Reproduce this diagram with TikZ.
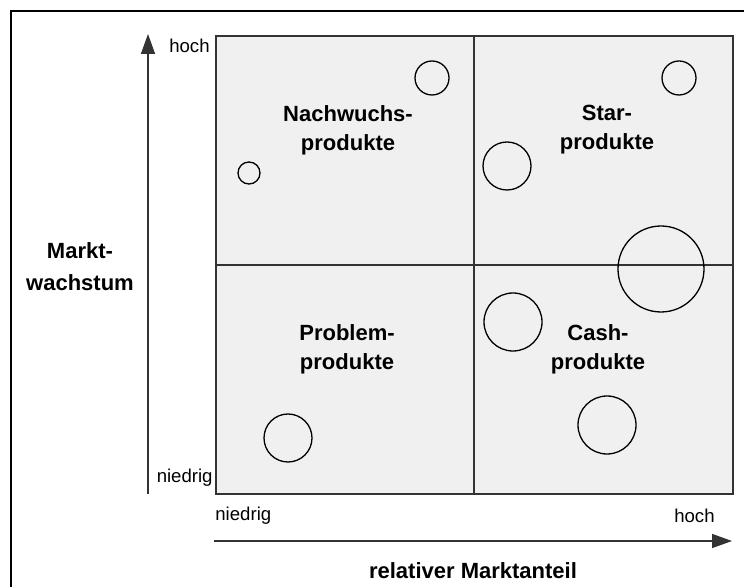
\documentclass[tikz,border=0pt]{standalone}
\usepackage{fontspec}
\setmainfont{Liberation Sans}
\usetikzlibrary{arrows.meta, positioning}
\definecolor{linegray}{HTML}{333333}
\definecolor{fieldgray}{HTML}{F0F0F0}
\tikzset{
	bubble/.style={draw, circle, inner sep=0pt, line width=0.65pt},
	quadlabel/.style={align=center, font=\bfseries\fontsize{11}{14.5}\selectfont},
	axislabel/.style={font=\fontsize{9.3}{11}\selectfont, inner sep=1pt},
	axistitle/.style={align=center, font=\bfseries\fontsize{11}{16}\selectfont},
}

\begin{document}
\begin{tikzpicture}[x=0.5pt, y=-0.5pt]
		\useasboundingbox (0,0) rectangle (744,587);
		\draw[line width=1pt] (11,11) rectangle (760,600);
		
		% Matrix
		\coordinate (tl) at (216,36);
		\coordinate (br) at (733,494);
		\coordinate (c) at (474,265);
		\fill[fieldgray] (tl) rectangle (br);
		\draw[linegray, line width=0.9pt] (tl |- c) -- (br |- c);
		\draw[linegray, line width=0.9pt] (tl -| c) -- (br -| c);
		\draw[linegray, line width=1pt] (tl) rectangle (br);
		
		% Axes
		\coordinate (ybot) at (148,494);
		\coordinate (ytop) at (148,34);
		\coordinate (xleft) at (214,541);
		\coordinate (xright) at (732,541);
		\begin{scope}[linegray, line width=0.75pt, -{Triangle[length=10pt, width=7pt]}]
			\draw (ybot) -- (ytop);
			\draw (xleft) -- (xright);
		\end{scope}
		
		\node (yhigh) [axislabel, anchor=east] at (212,46) {hoch};
		\node (ylow) [axislabel, anchor=east] at (215,478) {niedrig};
		\node (xlow) [axislabel, anchor=west] at (213,516) {niedrig};
		\node (xhigh) [axislabel, anchor=east] at (717,516) {hoch};
		\node (ytitle) [axistitle] at (80,267) {Markt-\\wachstum};
		\node (xtitle) [axistitle] at (473,571) {relativer Marktanteil};
		
		% Quadrants
		\node (nachwuchs) [quadlabel] at (348,130) {Nachwuchs-\\produkte};
		\node (star) [quadlabel] at (607,130) {Star-\\produkte};
		\node (problem) [quadlabel] at (347,349) {Problem-\\produkte};
		\node (cash) [quadlabel] at (598,349) {Cash-\\produkte};
		
		% Products
		\node (p1) [bubble, minimum size=17pt] at (432,78) {};
		\node (p2) [bubble, minimum size=11pt] at (249,173) {};
		\node (p3) [bubble, minimum size=17pt] at (679,78) {};
		\node (p4) [bubble, minimum size=24pt] at (507,166) {};
		\node (p5) [bubble, minimum size=43pt] at (661,269) {};
		\node (p6) [bubble, minimum size=29pt] at (513,322) {};
		\node (p7) [bubble, minimum size=29pt] at (607,425) {};
		\node (p8) [bubble, minimum size=24pt] at (288,438) {};
	\end{tikzpicture}
\end{document}
